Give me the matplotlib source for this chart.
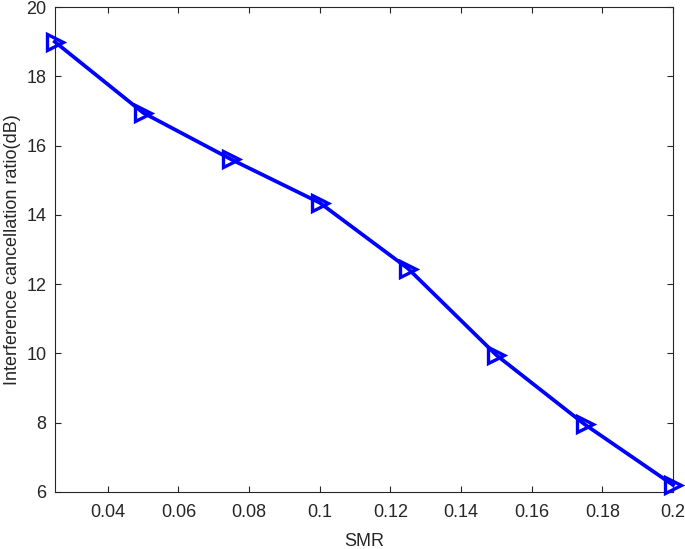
import numpy as np
import matplotlib.pyplot as plt

plt.rcParams['font.family'] = ['Liberation Sans', 'DejaVu Sans']

# data
smr = [0.025, 0.05, 0.075, 0.1, 0.125, 0.15, 0.175, 0.2]
icr = [19.0, 16.95, 15.6, 14.35, 12.45, 9.95, 7.95, 6.2]
xticks = [0.04, 0.06, 0.08, 0.1, 0.12, 0.14, 0.16, 0.18, 0.2]
xticklabels = ['0.04', '0.06', '0.08', '0.1', '0.12', '0.14', '0.16', '0.18', '0.2']
yticks = [6, 8, 10, 12, 14, 16, 18, 20]

fig = plt.figure(figsize=(6.85, 5.49), dpi=100)
ax = fig.add_axes([0.080, 0.104, 0.9025, 0.883])

ax.plot(smr, icr, color='#0000ff', linewidth=2.7, marker='>', markersize=11,
        markerfacecolor='none', markeredgewidth=2.4, clip_on=False, zorder=5)

ax.set_xlim(0.025, 0.2)
ax.set_ylim(6, 20)
ax.set_xticks(xticks)
ax.set_xticklabels(xticklabels)
ax.set_yticks(yticks)
ax.tick_params(direction='in', length=4, width=0.8, colors='#262626',
               labelsize=13, top=True, right=True)
ax.tick_params(axis='x', pad=9)
ax.tick_params(axis='y', pad=6)
for s in ax.spines.values():
    s.set_color('#262626')
    s.set_linewidth(0.8)

ax.set_xlabel('SMR', fontsize=13, color='#262626', labelpad=8)
ax.set_ylabel('Interference cancellation ratio(dB)', fontsize=13, color='#262626', labelpad=4)

fig.savefig('out.png', dpi=100)
